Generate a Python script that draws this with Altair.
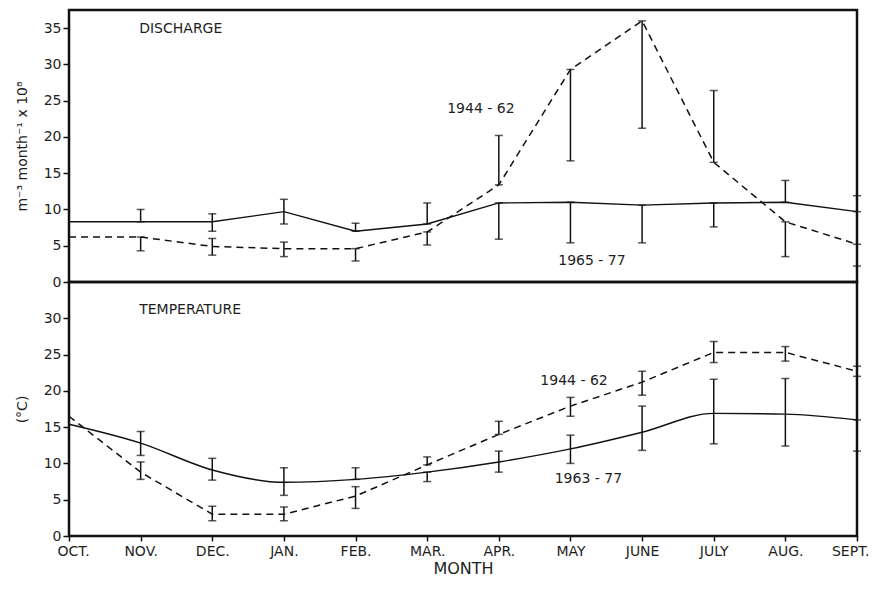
import json
import altair as alt
import pandas as pd

months = ["OCT.", "NOV.", "DEC.", "JAN.", "FEB.", "MAR.", "APR.", "MAY", "JUNE", "JULY", "AUG.", "SEPT."]

# Discharge (m^-3 month^-1 x 10^8)
dis_1965_77 = [8.3, 8.3, 8.3, 9.7, 7.0, 8.0, 10.9, 11.0, 10.6, 10.9, 11.0, 9.7]
dis_1965_77_lo = [None, 8.3, 7.0, 8.0, 7.0, 8.0, 5.9, 5.4, 5.4, 7.6, 11.0, 9.7]
dis_1965_77_hi = [None, 10.0, 9.4, 11.4, 8.1, 10.9, 10.9, 11.0, 10.6, 10.9, 14.0, 11.9]
dis_1944_62 = [6.2, 6.2, 4.9, 4.6, 4.6, 6.9, 13.4, 29.3, 36.0, 16.5, 8.3, 5.2]
dis_1944_62_lo = [None, 4.3, 3.7, 3.5, 2.9, 5.1, 13.4, 16.7, 21.2, 16.5, 3.5, 2.2]
dis_1944_62_hi = [None, 6.2, 6.0, 5.5, 4.6, 6.9, 20.2, 29.3, 36.0, 26.4, 8.3, 5.2]

# Temperature (deg C)
tmp_1963_77 = [15.4, 12.8, 9.1, 7.4, 7.8, 8.8, 10.2, 12.0, 14.3, 16.9, 16.8, 16.0]
tmp_1963_77_lo = [None, 11.1, 7.7, 5.6, 7.8, 7.5, 8.8, 10.0, 11.8, 12.7, 12.4, 11.7]
tmp_1963_77_hi = [None, 14.4, 10.7, 9.4, 9.4, 8.8, 11.7, 13.9, 17.9, 21.6, 21.7, 16.0]
tmp_1944_62 = [16.5, 8.8, 3.0, 3.0, 5.5, 9.8, 14.0, 17.9, 21.2, 25.3, 25.3, 22.7]
tmp_1944_62_lo = [None, 7.8, 2.1, 2.1, 3.8, 9.8, 14.0, 16.5, 19.4, 23.9, 24.1, 22.0]
tmp_1944_62_hi = [None, 10.2, 4.1, 4.0, 6.8, 10.9, 15.8, 19.1, 22.7, 26.8, 26.1, 23.4]

# Annotations
dis_labels = ["DISCHARGE", "1944 - 62", "1965 - 77"]
dis_label_x = [0.98, 5.75, 7.3]
dis_label_y = [34.9, 23.8, 2.9]
dis_label_align = ["left", "center", "center"]
tmp_labels = ["TEMPERATURE", "1944 - 62", "1963 - 77"]
tmp_label_x = [0.98, 7.05, 7.25]
tmp_label_y = [31.2, 21.3, 7.8]
tmp_label_align = ["left", "center", "center"]

FONT = "DejaVu Sans"
INK = "#111111"
TXT = "#1e1e1e"

label_expr = json.dumps(months) + "[datum.value]"


def panel(solid, dash, ydom, yvals, ytitle, height, labels, lx, ly, lal, show_x, solid_interp):
    rows = []
    for name, (v, lo, hi) in [("solid", solid), ("dash", dash)]:
        for i in range(len(v)):
            rows.append({"s": name, "i": i, "v": v[i],
                         "lo": lo[i] if lo[i] is not None else v[i],
                         "hi": hi[i] if hi[i] is not None else v[i],
                         "eb": lo[i] is not None})
    df = pd.DataFrame(rows)
    ann = pd.DataFrame({"t": labels, "i": lx, "v": ly, "a": lal})

    if show_x:
        x_axis = alt.Axis(values=list(range(12)), labelExpr=label_expr, title="MONTH",
                          labelFlush=True, labelFlushOffset=12, domain=False, grid=False,
                          tickColor=INK, tickSize=5, tickWidth=1.5, labelFont=FONT,
                          labelFontSize=14, labelColor=TXT, labelPadding=3,
                          titleFont=FONT, titleFontSize=16, titleFontWeight="normal",
                          titleColor=TXT, titlePadding=2)
    else:
        x_axis = None
    y_axis = alt.Axis(values=yvals, title=ytitle, domain=False, grid=False,
                      tickColor=INK, tickSize=6, tickWidth=1.5, labelFont=FONT,
                      labelFontSize=14, labelColor=TXT, labelPadding=2,
                      titleFont=FONT, titleFontSize=14, titleFontWeight="normal",
                      titleColor=TXT, titlePadding=14)
    xs = alt.Scale(domain=[0, 11], nice=False)
    ys = alt.Scale(domain=ydom, nice=False)

    def X():
        return alt.X("i:Q", scale=xs, axis=x_axis)

    def Y(f):
        return alt.Y(f"{f}:Q", scale=ys, axis=y_axis)

    base = alt.Chart(df)
    layers = [
        base.transform_filter("datum.s == 'solid'").mark_line(
            color=INK, strokeWidth=1.4, interpolate=solid_interp).encode(x=X(), y=Y("v")),
        base.transform_filter("datum.s == 'dash'").mark_line(
            color=INK, strokeWidth=1.5, strokeDash=[7, 5]).encode(x=X(), y=Y("v")),
    ]
    ebase = base.transform_filter("datum.eb")
    layers.append(ebase.mark_rule(color=INK, strokeWidth=1.5).encode(
        x=X(), y=Y("lo"), y2=alt.Y2("hi:Q")))
    for col in ["lo", "hi"]:
        layers.append(ebase.mark_tick(color=INK, orient="horizontal", size=8,
                                      thickness=1.5).encode(x=X(), y=Y(col)))
    abase = alt.Chart(ann)
    for al in ["left", "center"]:
        layers.append(abase.transform_filter(f"datum.a == '{al}'").mark_text(
            font=FONT, fontSize=14, color=TXT, align=al,
            baseline="middle").encode(x=X(), y=Y("v"), text="t:N"))
    return alt.layer(*layers).properties(width=788, height=height)


top = panel((dis_1965_77, dis_1965_77_lo, dis_1965_77_hi),
            (dis_1944_62, dis_1944_62_lo, dis_1944_62_hi),
            [0, 37.5], list(range(0, 40, 5)), "m⁻³ month⁻¹ x 10⁸", 272,
            dis_labels, dis_label_x, dis_label_y, dis_label_align, False, "linear")
bottom = panel((tmp_1963_77, tmp_1963_77_lo, tmp_1963_77_hi),
               (tmp_1944_62, tmp_1944_62_lo, tmp_1944_62_hi),
               [0, 35], list(range(0, 35, 5)), "(°C)", 254,
               tmp_labels, tmp_label_x, tmp_label_y, tmp_label_align, True, "monotone")

chart = alt.vconcat(top, bottom, spacing=0, bounds="flush").properties(
    padding={"left": 5, "top": 0, "right": 0, "bottom": 0},
    background="white",
).configure_view(stroke=INK, strokeWidth=2.5)

chart.save("out.html", embed_options={"renderer": "svg", "actions": False})
